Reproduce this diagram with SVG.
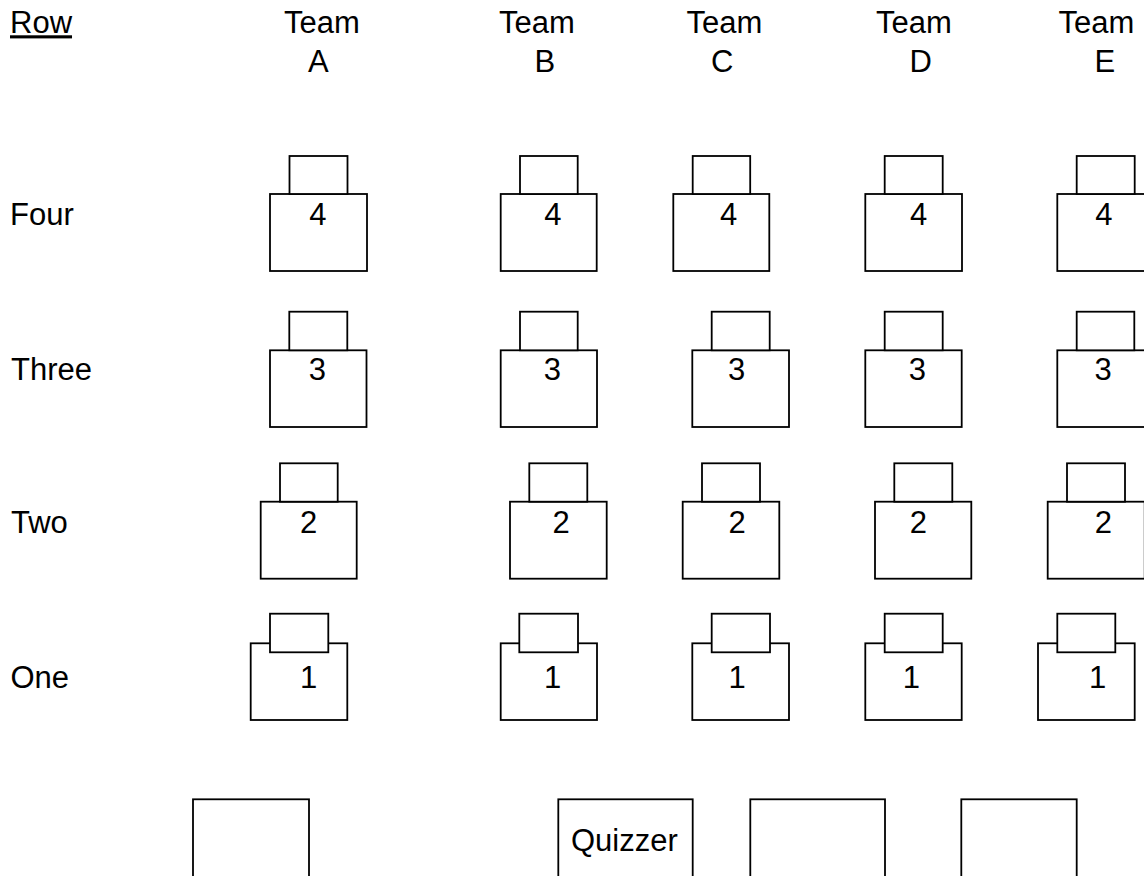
<svg xmlns="http://www.w3.org/2000/svg" width="1144" height="876" viewBox="0 0 1144 876">
<style>
text{font-family:"Liberation Sans",Arial,Helvetica,sans-serif;font-size:31px;fill:#000}
.bx{fill:#fff;stroke:#000;stroke-width:1.8}
.sm{fill:#fff;stroke:#000;stroke-width:1.8}
</style>
<rect width="1144" height="876" fill="#fff"/>
<g id="headers">
<text x="10" y="33.3" style="text-decoration:underline">Row</text>
<text x="284" y="33.3">Team</text><text x="308" y="71.7">A</text>
<text x="499" y="33.3">Team</text><text x="534.5" y="71.7">B</text>
<text x="686.5" y="33.3">Team</text><text x="711" y="71.7">C</text>
<text x="876" y="33.3">Team</text><text x="909.5" y="71.7">D</text>
<text x="1058.5" y="33.3">Team</text><text x="1094.5" y="71.7">E</text>
</g>
<g id="row-labels">
<text x="10" y="225">Four</text>
<text x="11" y="380">Three</text>
<text x="11" y="533.3">Two</text>
<text x="10.5" y="688">One</text>
</g>
<g id="row4">
<g id="A4"><rect class="bx" x="270" y="194" width="97" height="77"/><rect class="sm" x="289.5" y="156" width="58" height="38"/><text x="309.2" y="225">4</text></g>
<g id="B4"><rect class="bx" x="500.7" y="194" width="96" height="77"/><rect class="sm" x="520" y="156" width="57.7" height="38"/><text x="544.2" y="225">4</text></g>
<g id="C4"><rect class="bx" x="673.3" y="194" width="96" height="77"/><rect class="sm" x="692.7" y="156" width="57.5" height="38"/><text x="720" y="225">4</text></g>
<g id="D4"><rect class="bx" x="865.3" y="194" width="96.7" height="77"/><rect class="sm" x="884.7" y="156" width="58" height="38"/><text x="910" y="225">4</text></g>
<g id="E4"><rect class="bx" x="1057.3" y="194" width="97" height="77"/><rect class="sm" x="1076.7" y="156" width="58" height="38"/><text x="1095.2" y="225">4</text></g>
</g>
<g id="row3">
<g id="A3"><rect class="bx" x="270" y="350.3" width="96.5" height="76.7"/><rect class="sm" x="289.3" y="311.7" width="58" height="38.6"/><text x="308.7" y="379.5">3</text></g>
<g id="B3"><rect class="bx" x="500.7" y="350.3" width="96.3" height="76.7"/><rect class="sm" x="520" y="311.7" width="57.7" height="38.6"/><text x="543.7" y="379.5">3</text></g>
<g id="C3"><rect class="bx" x="692.3" y="350.3" width="96.7" height="76.7"/><rect class="sm" x="711.7" y="311.7" width="58" height="38.6"/><text x="728" y="379.5">3</text></g>
<g id="D3"><rect class="bx" x="865.3" y="350.3" width="96.4" height="76.7"/><rect class="sm" x="884.7" y="311.7" width="58" height="38.6"/><text x="908.7" y="379.5">3</text></g>
<g id="E3"><rect class="bx" x="1057.3" y="350.3" width="97" height="76.7"/><rect class="sm" x="1076.7" y="311.7" width="57.6" height="38.6"/><text x="1094.4" y="379.5">3</text></g>
</g>
<g id="row2">
<g id="A2"><rect class="bx" x="260.7" y="501.7" width="96" height="77"/><rect class="sm" x="280" y="463.3" width="57.7" height="38.4"/><text x="300" y="533.3">2</text></g>
<g id="B2"><rect class="bx" x="510" y="501.7" width="96.7" height="77"/><rect class="sm" x="529.3" y="463.3" width="58" height="38.4"/><text x="552.4" y="533.3">2</text></g>
<g id="C2"><rect class="bx" x="682.7" y="501.7" width="96.6" height="77"/><rect class="sm" x="702" y="463.3" width="58" height="38.4"/><text x="728.4" y="533.3">2</text></g>
<g id="D2"><rect class="bx" x="875" y="501.7" width="96.3" height="77"/><rect class="sm" x="894.3" y="463.3" width="58" height="38.4"/><text x="909.8" y="533.3">2</text></g>
<g id="E2"><rect class="bx" x="1047.7" y="501.7" width="97" height="77"/><rect class="sm" x="1067" y="463.3" width="58" height="38.4"/><text x="1094.8" y="533.3">2</text></g>
</g>
<g id="row1">
<g id="A1"><rect class="bx" x="250.7" y="643.3" width="96.6" height="76.7"/><rect class="sm" x="270" y="613.7" width="58.3" height="38.6"/><text x="300" y="687.5">1</text></g>
<g id="B1"><rect class="bx" x="500.7" y="643.3" width="96.3" height="76.7"/><rect class="sm" x="519.3" y="613.7" width="58.7" height="38.6"/><text x="544" y="687.5">1</text></g>
<g id="C1"><rect class="bx" x="692.3" y="643.3" width="96.7" height="76.7"/><rect class="sm" x="711.7" y="613.7" width="58.3" height="38.6"/><text x="728.4" y="687.5">1</text></g>
<g id="D1"><rect class="bx" x="865.3" y="643.3" width="96.4" height="76.7"/><rect class="sm" x="884.7" y="613.7" width="58" height="38.6"/><text x="902.7" y="687.5">1</text></g>
<g id="E1"><rect class="bx" x="1038" y="643.3" width="96.7" height="76.7"/><rect class="sm" x="1057.3" y="613.7" width="58" height="38.6"/><text x="1089" y="687.5">1</text></g>
</g>
<g id="front">
<g id="box-left"><rect class="bx" x="193" y="799.3" width="116" height="100"/></g>
<g id="quizzer"><rect class="bx" x="558.3" y="799.3" width="134.4" height="100"/><text x="571" y="850.7">Quizzer</text></g>
<g id="box-mid"><rect class="bx" x="750.3" y="799.3" width="134.7" height="100"/></g>
<g id="box-right"><rect class="bx" x="961.3" y="799.3" width="115.4" height="100"/></g>
</g>
<g id="connectors"/>
</svg>
